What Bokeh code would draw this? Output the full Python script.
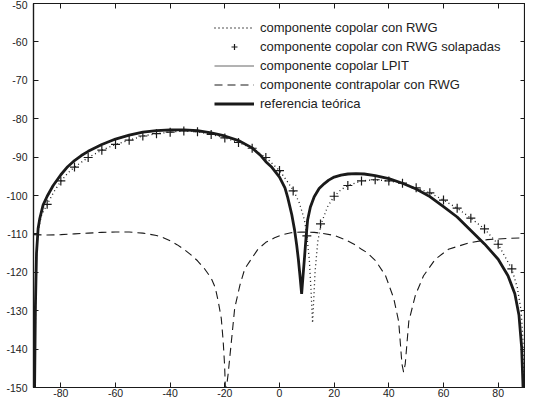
from bokeh.plotting import figure
from bokeh.models import LinearAxis, FixedTicker, Legend, LegendItem
from bokeh.embed import file_html
from bokeh.resources import INLINE

# ---------------- data ----------------
x_ticks = [-80, -60, -40, -20, 0, 20, 40, 60, 80]
x_tick_labels = ["-80", "-60", "-40", "-20", "0", "20", "40", "60", "80"]
y_ticks = [-150, -140, -130, -120, -110, -100, -90, -80, -70, -60, -50]
y_tick_labels = ["-150", "-140", "-130", "-120", "-110", "-100", "-90", "-80", "-70", "-60", "-50"]

# referencia teórica (thick)
ref_x = [-89.6, -89.3, -88.9, -88.3, -87.7, -86.5, -85, -82.8, -80, -77.5, -75, -72.5, -70, -65, -60, -55,
         -50, -45, -40, -35, -30, -25, -20, -15, -10, -7, -5, -3, 0, 2, 3, 4.5, 5.5, 6.3, 6.9, 7.5, 8.1,
         8.6, 9.1, 9.7, 10.3, 11.3, 12.7, 14.5, 16.4, 18, 20, 22.5, 25, 28, 31, 35, 40, 45, 50, 55, 60,
         65, 70, 75, 80, 83.6, 86.1, 87.6, 88.6, 89.1]
ref_y = [-150, -129, -115, -108.5, -106, -102.5, -100.2, -97.4, -94.6, -92.5, -90.9, -89.6, -88.5, -86.7,
         -85.3, -84.3, -83.5, -83.1, -82.9, -82.9, -83.1, -83.7, -84.5, -85.7, -87.6, -89.5, -91.2, -92.5,
         -95.2, -98, -100.5, -105, -108.9, -113, -116.6, -121, -125.6, -121, -116.6, -111, -106.3, -103,
         -100.3, -98.2, -96.9, -96, -95.2, -94.7, -94.4, -94.3, -94.4, -94.8, -95.6, -96.8, -98.3, -100.3,
         -102.9, -105.6, -109.1, -112.6, -116.6, -120.9, -125.6, -131.1, -139.7, -150]

# componente copolar LPIT (thin, almost coincident with the reference)
lpit_x = [-89.6, -89.3, -88.9, -88.3, -87.7, -86.5, -85, -82.8, -80, -77.5, -75, -72.5, -70, -65, -60, -55,
          -50, -45, -40, -35, -30, -25, -20, -15, -10, -7, -5, -3, 0, 2, 3, 4.5, 5.5, 6.3, 6.9, 7.5, 8.1,
          8.6, 9.1, 9.7, 10.3, 11.3, 12.7, 14.5, 16.4, 18, 20, 22.5, 25, 28, 31, 35, 40, 45, 50, 55, 60,
          65, 70, 75, 80, 83.6, 86.1, 87.6, 88.6, 89.1]
lpit_y = [-150, -129, -115, -108.6, -106.1, -102.6, -100.3, -97.5, -94.7, -92.6, -91.0, -89.7, -88.6, -86.8,
          -85.4, -84.4, -83.6, -83.2, -83.0, -83.0, -83.2, -83.8, -84.6, -85.8, -87.7, -89.6, -91.3, -92.6,
          -95.3, -98.1, -100.6, -105.1, -109, -113.1, -116.7, -121.1, -125.4, -121.1, -116.7, -111.1,
          -106.4, -103.1, -100.4, -98.3, -97, -96.1, -95.3, -94.8, -94.5, -94.4, -94.5, -94.9, -95.7,
          -96.9, -98.4, -100.4, -103, -105.7, -109.2, -112.7, -116.7, -121, -125.7, -131.2, -139.8, -150]

# componente copolar con RWG (dotted)
rwg_x = [-89.5, -89.2, -88.8, -88, -87, -85, -82.5, -80, -77.5, -75, -70, -65, -60, -55, -50, -45, -40,
         -35, -30, -25, -20, -15, -10, -5, 0, 3, 5.2, 7.3, 9.1, 10, 10.9, 11.5, 12.1, 12.6, 13, 14, 15.2,
         17.6, 20, 22.5, 25, 30, 35, 40, 45, 50, 55, 60, 65, 70, 75, 80, 85, 87, 88.4, 89.1, 89.5]
rwg_y = [-150, -125, -113, -108, -105, -102.3, -99, -96.3, -94.2, -92.6, -90.1, -88.2, -86.7, -85.6, -84.5,
         -83.9, -83.5, -83.2, -83.4, -84.1, -85, -86.2, -87.7, -90.1, -93.5, -96.5, -98.8, -102, -106.3,
         -110.4, -116.6, -124.3, -133.2, -126, -120, -112, -107.4, -102.9, -100.2, -98.5, -97.4, -96.2,
         -95.9, -96.2, -96.8, -98, -99.3, -101.2, -103.3, -105.9, -108.7, -112.7, -119.1, -124, -130, -138, -150]

# componente copolar con RWG solapadas (crosses every 5 degrees)
sol_x = [-85, -80, -75, -70, -65, -60, -55, -50, -45, -40, -35, -30, -25, -20, -15, -10, -5, 0, 5, 10,
         15, 20, 25, 30, 35, 40, 45, 50, 55, 60, 65, 70, 75, 80, 85]
sol_y = [-102.3, -96.2, -92.6, -90.1, -88.2, -86.7, -85.6, -84.5, -83.9, -83.5, -83.2, -83.4, -84.1, -85,
         -86.2, -87.7, -90.1, -93.5, -98.8, -110.5, -107.4, -100.2, -97.4, -96.2, -95.9, -96.2, -96.8, -98,
         -99.3, -101.2, -103.3, -105.9, -108.7, -112.7, -119.1]

# componente contrapolar con RWG (dashed)
cx_x = [-90, -85, -80, -75, -70, -65, -60, -55, -50, -45, -42.5, -40, -37.5, -35, -32.5, -30, -27.5, -25,
        -23.5, -22.4, -21.3, -20.6, -20.1, -19.8, -19.4, -18.8, -17.6, -16.4, -14.5, -12.7, -10, -7.9, -5,
        -1.8, 1, 4.2, 7.9, 12.7, 16, 20, 24, 27.3, 30, 32.1, 35.2, 38.8, 41.8, 43.6, 44.8, 45.4, 46, 47.3,
        49.7, 52.7, 57, 61.8, 69, 76, 83, 90]
cx_y = [-110.2, -110.3, -110.2, -110, -109.8, -109.6, -109.5, -109.5, -109.8, -110.4, -111, -111.8, -112.8,
        -114, -115.4, -117, -119, -121.5, -124, -127.6, -132, -138, -144, -150, -150, -146.5, -138, -129.4,
        -123.4, -119.1, -116.2, -114, -112.2, -111, -110.2, -109.7, -109.5, -109.6, -109.9, -110.4, -111.5,
        -112.7, -114, -114.9, -117, -120.9, -126.8, -132.8, -143.9, -146, -143.9, -132.8, -126, -120.9,
        -116.6, -114, -112.4, -111.5, -111.2, -111]

# ---------------- figure ----------------
FONT = "Liberation Sans"
INK = "#1a1a1a"

p = figure(width=525, height=399, x_range=(-90, 90), y_range=(-150, -50),
           output_backend="svg", toolbar_location=None,
           min_border_left=33, min_border_right=0, min_border_top=3, min_border_bottom=0)
p.xgrid.grid_line_color = None
p.ygrid.grid_line_color = None
p.outline_line_color = INK
p.outline_line_width = 1.2
p.background_fill_color = "white"
p.border_fill_color = "white"

def style_axis(ax, ticks, labels, show_labels=True):
    ax.ticker = FixedTicker(ticks=ticks)
    ax.major_label_overrides = {t: l for t, l in zip(ticks, labels)}
    ax.major_tick_in = 5
    ax.major_tick_out = 0
    ax.minor_tick_in = 0
    ax.minor_tick_out = 0
    ax.axis_line_color = INK
    ax.axis_line_width = 1.2
    ax.major_tick_line_color = INK
    ax.major_label_text_font = FONT
    ax.major_label_text_color = "#222222"
    if show_labels:
        ax.major_label_text_font_size = "10.5px"
    else:
        ax.major_label_text_font_size = "0px"
        ax.major_label_standoff = 0

style_axis(p.xaxis[0], x_ticks, x_tick_labels)
p.xaxis[0].major_label_standoff = 1
style_axis(p.yaxis[0], y_ticks, y_tick_labels)
p.yaxis[0].major_label_standoff = 6

top = LinearAxis()
style_axis(top, x_ticks, ["" for _ in x_ticks], show_labels=False)
p.add_layout(top, "above")
right = LinearAxis()
style_axis(right, y_ticks, ["" for _ in y_ticks], show_labels=False)
p.add_layout(right, "right")

r_cx = p.line(cx_x, cx_y, line_color=INK, line_width=1.1, line_dash="8 5")
r_rwg = p.line(rwg_x, rwg_y, line_color=INK, line_width=1.3, line_dash="1 3")
r_lpit = p.line(lpit_x, lpit_y, line_color="#666666", line_width=1.0)
r_ref = p.line(ref_x, ref_y, line_color=INK, line_width=2.8)
r_sol = p.scatter(sol_x, sol_y, marker="cross", size=9, line_color=INK, line_width=1.2)

legend = Legend(items=[
    LegendItem(label="componente copolar con RWG", renderers=[r_rwg]),
    LegendItem(label="componente copolar con RWG solapadas", renderers=[r_sol]),
    LegendItem(label="componente copolar LPIT", renderers=[r_lpit]),
    LegendItem(label="componente contrapolar con RWG", renderers=[r_cx]),
    LegendItem(label="referencia teórica", renderers=[r_ref]),
], location=(181, 276), border_line_color=None, background_fill_alpha=0, padding=0, margin=0,
   spacing=4, glyph_width=40, glyph_height=15, label_height=15, label_standoff=6,
   label_text_font=FONT, label_text_font_size="13px", label_text_color="#222222")
p.add_layout(legend)

open("out.html", "w").write(file_html(p, INLINE))
